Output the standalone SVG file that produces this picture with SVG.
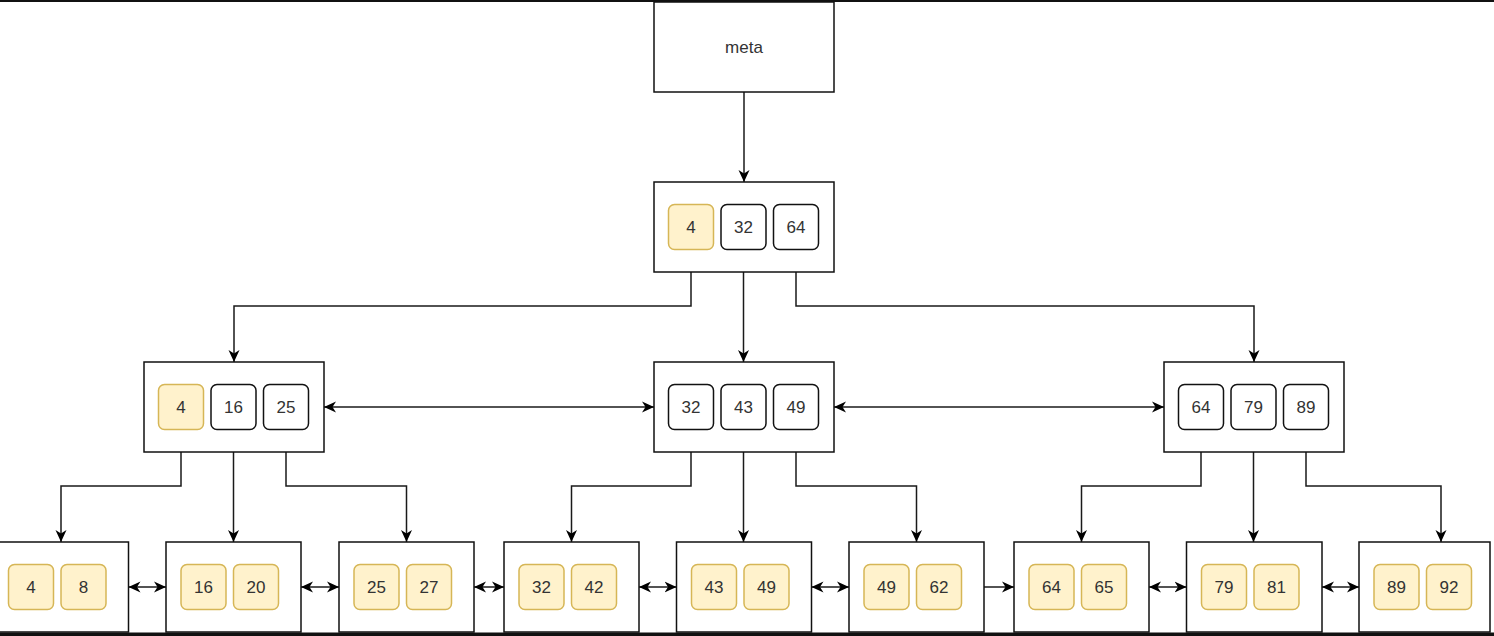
<svg xmlns="http://www.w3.org/2000/svg" width="1494" height="636" viewBox="0 0 1494 636">
<style>
.node{fill:#fff;stroke:#111;stroke-width:1.5}
.k{fill:#fff;stroke:#111;stroke-width:1.5}
.y{fill:#fff2cc;stroke:#d6b656;stroke-width:1.5}
.t{font-family:"Liberation Sans",Arial,sans-serif;font-size:17px;fill:#333;text-anchor:middle;dominant-baseline:central}
.c{fill:none;stroke:#1a1a1a;stroke-width:1.5}
</style>
<defs>
<marker id="a" markerUnits="userSpaceOnUse" markerWidth="13" markerHeight="12" refX="12" refY="5.5" orient="auto-start-reverse" viewBox="0 0 13 11">
<path d="M0,0 L12,5.5 L0,11 L3.5,5.5 z" fill="#000"/>
</marker>
</defs>
<rect x="0" y="0" width="1494" height="636" fill="#fff"/>

<g id="connectors">
<path class="c" d="M744,92 V182" marker-end="url(#a)"/>
<path class="c" d="M691,249.5 V306 H234 V362" marker-end="url(#a)"/>
<path class="c" d="M743.5,249.5 V362" marker-end="url(#a)"/>
<path class="c" d="M796,249.5 V306 H1254 V362" marker-end="url(#a)"/>
<path class="c" d="M324,407 H654" marker-start="url(#a)" marker-end="url(#a)"/>
<path class="c" d="M834,407 H1164" marker-start="url(#a)" marker-end="url(#a)"/>
<path class="c" d="M181,429.5 V486 H61 V542" marker-end="url(#a)"/>
<path class="c" d="M233.5,429.5 V542" marker-end="url(#a)"/>
<path class="c" d="M286,429.5 V486 H406.5 V542" marker-end="url(#a)"/>
<path class="c" d="M691,429.5 V486 H571.5 V542" marker-end="url(#a)"/>
<path class="c" d="M743.5,429.5 V542" marker-end="url(#a)"/>
<path class="c" d="M796,429.5 V486 H916.5 V542" marker-end="url(#a)"/>
<path class="c" d="M1201,429.5 V486 H1081.5 V542" marker-end="url(#a)"/>
<path class="c" d="M1253.5,429.5 V542" marker-end="url(#a)"/>
<path class="c" d="M1306,429.5 V486 H1441 V542" marker-end="url(#a)"/>
<path class="c" d="M128.5,587 H166" marker-start="url(#a)" marker-end="url(#a)"/>
<path class="c" d="M301,587 H339" marker-start="url(#a)" marker-end="url(#a)"/>
<path class="c" d="M474,587 H504" marker-start="url(#a)" marker-end="url(#a)"/>
<path class="c" d="M639,587 H676.5" marker-start="url(#a)" marker-end="url(#a)"/>
<path class="c" d="M811.5,587 H849" marker-start="url(#a)" marker-end="url(#a)"/>
<path class="c" d="M984,587 H1014" marker-end="url(#a)"/>
<path class="c" d="M1149,587 H1186.5" marker-start="url(#a)" marker-end="url(#a)"/>
<path class="c" d="M1322,587 H1359" marker-start="url(#a)" marker-end="url(#a)"/>
</g>

<g id="meta"><rect class="node" x="654" y="2" width="180" height="90"/><text class="t" x="744" y="47">meta</text></g>

<g id="root">
<rect class="node" x="654" y="182" width="180" height="90"/>
<rect class="y" x="668.5" y="204.5" width="45" height="45" rx="6"/><text class="t" x="691" y="227">4</text>
<rect class="k" x="721" y="204.5" width="45" height="45" rx="6"/><text class="t" x="743.5" y="227">32</text>
<rect class="k" x="773.5" y="204.5" width="45" height="45" rx="6"/><text class="t" x="796" y="227">64</text>
</g>

<g id="inner-left">
<rect class="node" x="144" y="362" width="180" height="90"/>
<rect class="y" x="158.5" y="384.5" width="45" height="45" rx="6"/><text class="t" x="181" y="407">4</text>
<rect class="k" x="211" y="384.5" width="45" height="45" rx="6"/><text class="t" x="233.5" y="407">16</text>
<rect class="k" x="263.5" y="384.5" width="45" height="45" rx="6"/><text class="t" x="286" y="407">25</text>
</g>

<g id="inner-mid">
<rect class="node" x="654" y="362" width="180" height="90"/>
<rect class="k" x="668.5" y="384.5" width="45" height="45" rx="6"/><text class="t" x="691" y="407">32</text>
<rect class="k" x="721" y="384.5" width="45" height="45" rx="6"/><text class="t" x="743.5" y="407">43</text>
<rect class="k" x="773.5" y="384.5" width="45" height="45" rx="6"/><text class="t" x="796" y="407">49</text>
</g>

<g id="inner-right">
<rect class="node" x="1164" y="362" width="180" height="90"/>
<rect class="k" x="1178.5" y="384.5" width="45" height="45" rx="6"/><text class="t" x="1201" y="407">64</text>
<rect class="k" x="1231" y="384.5" width="45" height="45" rx="6"/><text class="t" x="1253.5" y="407">79</text>
<rect class="k" x="1283.5" y="384.5" width="45" height="45" rx="6"/><text class="t" x="1306" y="407">89</text>
</g>

<g id="leaf1"><rect class="node" x="-7" y="542" width="135.5" height="90"/>
<rect class="y" x="8.5" y="564.5" width="45" height="45" rx="6"/><text class="t" x="31" y="587">4</text>
<rect class="y" x="61" y="564.5" width="45" height="45" rx="6"/><text class="t" x="83.5" y="587">8</text></g>

<g id="leaf2"><rect class="node" x="166" y="542" width="135" height="90"/>
<rect class="y" x="181" y="564.5" width="45" height="45" rx="6"/><text class="t" x="203.5" y="587">16</text>
<rect class="y" x="233.5" y="564.5" width="45" height="45" rx="6"/><text class="t" x="256" y="587">20</text></g>

<g id="leaf3"><rect class="node" x="339" y="542" width="135" height="90"/>
<rect class="y" x="354" y="564.5" width="45" height="45" rx="6"/><text class="t" x="376.5" y="587">25</text>
<rect class="y" x="406.5" y="564.5" width="45" height="45" rx="6"/><text class="t" x="429" y="587">27</text></g>

<g id="leaf4"><rect class="node" x="504" y="542" width="135" height="90"/>
<rect class="y" x="519" y="564.5" width="45" height="45" rx="6"/><text class="t" x="541.5" y="587">32</text>
<rect class="y" x="571.5" y="564.5" width="45" height="45" rx="6"/><text class="t" x="594" y="587">42</text></g>

<g id="leaf5"><rect class="node" x="676.5" y="542" width="135" height="90"/>
<rect class="y" x="691.5" y="564.5" width="45" height="45" rx="6"/><text class="t" x="714" y="587">43</text>
<rect class="y" x="744" y="564.5" width="45" height="45" rx="6"/><text class="t" x="766.5" y="587">49</text></g>

<g id="leaf6"><rect class="node" x="849" y="542" width="135" height="90"/>
<rect class="y" x="864" y="564.5" width="45" height="45" rx="6"/><text class="t" x="886.5" y="587">49</text>
<rect class="y" x="916.5" y="564.5" width="45" height="45" rx="6"/><text class="t" x="939" y="587">62</text></g>

<g id="leaf7"><rect class="node" x="1014" y="542" width="135" height="90"/>
<rect class="y" x="1029" y="564.5" width="45" height="45" rx="6"/><text class="t" x="1051.5" y="587">64</text>
<rect class="y" x="1081.5" y="564.5" width="45" height="45" rx="6"/><text class="t" x="1104" y="587">65</text></g>

<g id="leaf8"><rect class="node" x="1186.5" y="542" width="135.5" height="90"/>
<rect class="y" x="1201.5" y="564.5" width="45" height="45" rx="6"/><text class="t" x="1224" y="587">79</text>
<rect class="y" x="1254" y="564.5" width="45" height="45" rx="6"/><text class="t" x="1276.5" y="587">81</text></g>

<g id="leaf9"><rect class="node" x="1359" y="542" width="131" height="90"/>
<rect class="y" x="1374" y="564.5" width="45" height="45" rx="6"/><text class="t" x="1396.5" y="587">89</text>
<rect class="y" x="1426.5" y="564.5" width="45" height="45" rx="6"/><text class="t" x="1449" y="587">92</text></g>

<rect x="0" y="0" width="1494" height="2" fill="#111"/>
<rect x="0" y="632.5" width="1494" height="3.5" fill="#111"/>
</svg>
